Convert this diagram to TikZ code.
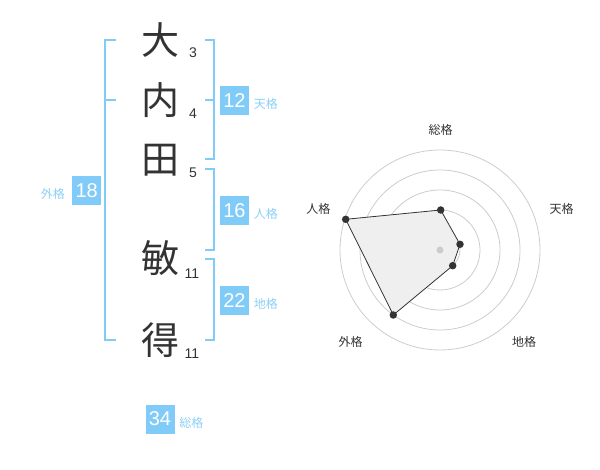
\documentclass[tikz,border=0pt]{standalone}
\usepackage{fontspec}
\setmainfont{Liberation Sans}
\newfontfamily\jp{Noto Sans CJK JP}
\definecolor{nb}{HTML}{80CBF8}
\definecolor{lb}{HTML}{8CCFF5}
\definecolor{kc}{HTML}{333333}
\definecolor{ring}{HTML}{CCCCCC}
\definecolor{polyfill}{HTML}{EFEFEF}
\begin{document}
\begin{tikzpicture}[x=1pt,y=-1pt,
  kanji/.style={font=\jp\fontsize{38}{38}\selectfont,text=kc,inner sep=0pt},
  stroke/.style={font=\fontsize{14}{14}\selectfont,text=kc,inner sep=0pt},
  numbox/.style={fill=nb,text=white,minimum size=29pt,inner sep=0pt,font=\fontsize{20}{20}\selectfont},
  kaku/.style={font=\jp\fontsize{12}{12}\selectfont,text=lb,inner sep=0pt},
  bracket/.style={draw=nb,line width=2pt},
  rlabel/.style={font=\jp\fontsize{12}{12}\selectfont,text=kc,inner sep=0pt},
  pt/.style={circle,fill=kc,inner sep=0pt,minimum size=7.5pt}]
\useasboundingbox (0,0) rectangle (600,470);
% kanji
\node[kanji] (k1) at (160,40) {大};
\node[kanji] (k2) at (160,100) {内};
\node[kanji] (k3) at (160,160) {田};
\node[kanji] (k4) at (160,258) {敏};
\node[kanji] (k5) at (160,340) {得};
% stroke counts
\node[stroke] (s1) at (193,52.5) {3};
\node[stroke] (s2) at (193,113.3) {4};
\node[stroke] (s3) at (193,172.7) {5};
\node[stroke] (s4) at (192,273.3) {11};
\node[stroke] (s5) at (192,353.3) {11};
% brackets
\draw[bracket] (115.7,40) -- (105,40) -- (105,340) -- (115.7,340);
\draw[bracket] (105,100) -- (115.7,100);
\draw[bracket] (205,40) -- (214.3,40) -- (214.3,159.3) -- (205,159.3);
\draw[bracket] (205,100) -- (214.3,100);
\draw[bracket] (205,169.3) -- (214.3,169.3) -- (214.3,250) -- (205,250);
\draw[bracket] (205,259.3) -- (214.3,259.3) -- (214.3,340) -- (205,340);
% boxes
\node[numbox] (b12) at (234.5,100.3) {12};
\node[kaku] (l12) at (265.8,103.8) {天格};
\node[numbox] (b16) at (234.5,210.3) {16};
\node[kaku] (l16) at (265.8,213.7) {人格};
\node[numbox] (b22) at (234.5,300.3) {22};
\node[kaku] (l22) at (265.8,303.8) {地格};
\node[numbox] (b18) at (86.7,190.3) {18};
\node[kaku] (l18) at (52.8,194) {外格};
\node[numbox] (b34) at (160,419) {34};
\node[kaku] (l34) at (191.3,422.5) {総格};
% radar
\coordinate (c) at (440,250);
\foreach \r in {20,40,60,80,100}
  \draw[ring,line width=0.8pt] (c) circle[radius=\r];
\coordinate (p1) at (440.7,210);
\coordinate (p2) at (460,244.3);
\coordinate (p3) at (452.7,265.7);
\coordinate (p4) at (393.3,315);
\coordinate (p5) at (345.7,219.3);
\draw[fill=polyfill,draw=kc,line width=0.8pt] (p1) -- (p2) -- (p3) -- (p4) -- (p5) -- cycle;
\node[circle,fill=ring,inner sep=0pt,minimum size=7pt] (cd) at (c) {};
\foreach \p in {p1,p2,p3,p4,p5} \node[pt] at (\p) {};
\node[rlabel] (r1) at (440.7,130) {総格};
\node[rlabel] (r2) at (561.7,209) {天格};
\node[rlabel] (r3) at (524,341.7) {地格};
\node[rlabel] (r4) at (350.7,341.7) {外格};
\node[rlabel] (r5) at (318.3,209) {人格};
\end{tikzpicture}
\end{document}
